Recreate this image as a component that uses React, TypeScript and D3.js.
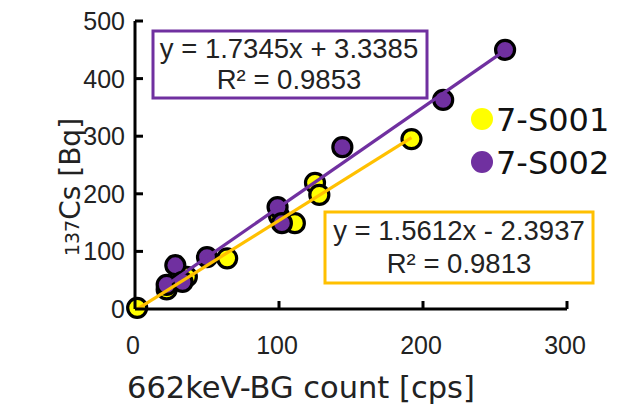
import React from "react";
import * as d3 from "d3";

const xTicks = [0, 100, 200, 300];
const yTicks = [0, 100, 200, 300, 400, 500];

const s001X = [1.5, 22, 36, 64, 100, 111, 125, 128, 192];
const s001Y = [2, 34, 56, 88, 162, 149, 219, 198, 295];
const s002X = [22, 28, 33, 50, 99, 102, 144, 214, 257];
const s002Y = [42, 76, 47, 90, 177, 149, 281, 363, 450];

const fit001 = { slope: 1.5612, intercept: -2.3937, eq: "y = 1.5612x - 2.3937", r2: "R² = 0.9813" };
const fit002 = { slope: 1.7345, intercept: 3.3385, eq: "y = 1.7345x + 3.3385", r2: "R² = 0.9853" };

const series = [
  { name: "7-S001", xs: s001X, ys: s001Y, color: "#FFFF00", line: "#FFC000", fit: fit001 },
  { name: "7-S002", xs: s002X, ys: s002Y, color: "#7030A0", line: "#7030A0", fit: fit002 },
];

export default function App() {
  const W = 624, H = 414;
  const x = d3.scaleLinear().domain([0, 300]).range([135, 567]);
  const y = d3.scaleLinear().domain([0, 500]).range([309, 21]);
  const line = d3.line<[number, number]>().x((d) => x(d[0])).y((d) => y(d[1]));
  const font = "Liberation Sans, Arial, sans-serif";
  const font2 = "DejaVu Sans, Verdana, sans-serif";

  return (
    <svg width={W} height={H} style={{ position: "absolute", left: 0, top: 0, background: "#fff" }}>
      <rect width={W} height={H} fill="#fff" />
      {/* points */}
      {series.map((s) =>
        s.xs.map((xv, i) => (
          <circle key={s.name + i} cx={x(xv)} cy={y(s.ys[i])} r={9.5} fill={s.color} stroke="#000" strokeWidth={3.2} />
        ))
      )}
      {/* trendlines */}
      {series.map((s) => {
        const x0 = d3.min(s.xs) as number;
        const x1 = d3.max(s.xs) as number;
        const pts: [number, number][] = [
          [x0, s.fit.slope * x0 + s.fit.intercept],
          [x1, s.fit.slope * x1 + s.fit.intercept],
        ];
        return <path key={s.name + "fit"} d={line(pts) || ""} stroke={s.line} strokeWidth={3.2} fill="none" />;
      })}
      {/* axes */}
      <line x1={x(0)} x2={x(0)} y1={y(500)} y2={y(0)} stroke="#000" strokeWidth={3} />
      <line x1={x(0)} x2={x(300)} y1={y(0)} y2={y(0)} stroke="#000" strokeWidth={3} />
      {yTicks.slice(1).map((t) => (
        <line key={"yt" + t} x1={x(0)} x2={x(0) + 8} y1={y(t)} y2={y(t)} stroke="#000" strokeWidth={3} />
      ))}
      {xTicks.slice(1).map((t) => (
        <line key={"xt" + t} x1={x(t)} x2={x(t)} y1={y(0)} y2={y(0) - 8} stroke="#000" strokeWidth={3} />
      ))}
      {yTicks.map((t) => (
        <text key={"yl" + t} x={x(0) - 10} y={y(t) + 9} textAnchor="end" fontFamily={font} fontSize={25} fill="#222">
          {t}
        </text>
      ))}
      {xTicks.map((t) => (
        <text key={"xl" + t} x={x(t) - 2} y={354} textAnchor="middle" fontFamily={font} fontSize={25} fill="#222">
          {t}
        </text>
      ))}
      {/* axis titles */}
      <text x={127} y={398} fontFamily={font2} fontSize={30.5} fill="#222">662keV-BG count [cps]</text>
      <text transform="translate(80,187) rotate(-90)" textAnchor="middle" fontFamily={font2} fontSize={28} fill="#222">
        <tspan fontSize={19} dy={-1}>137</tspan>
        <tspan dy={1}>Cs [Bq]</tspan>
      </text>
      {/* equation boxes */}
      <rect x={153} y={31} width={274} height={67} fill="#fff" stroke="#7030A0" strokeWidth={3} />
      <text x={289} y={58} textAnchor="middle" fontFamily={font} fontSize={27.5} fill="#222">{fit002.eq}</text>
      <text x={289} y={89} textAnchor="middle" fontFamily={font} fontSize={27.5} fill="#222">{fit002.r2}</text>
      <rect x={325} y={212} width={268} height={71} fill="#fff" stroke="#FFC000" strokeWidth={3} />
      <text x={459} y={240} textAnchor="middle" fontFamily={font} fontSize={27.5} fill="#222">{fit001.eq}</text>
      <text x={459} y={273} textAnchor="middle" fontFamily={font} fontSize={27.5} fill="#222">{fit001.r2}</text>
      {/* legend */}
      {series.map((s, i) => (
        <g key={"lg" + s.name}>
          <circle cx={482} cy={119 + i * 43} r={11} fill={s.color} />
          <text x={496} y={131 + i * 43} fontFamily={font2} fontSize={32} fill="#111">{s.name}</text>
        </g>
      ))}
    </svg>
  );
}
